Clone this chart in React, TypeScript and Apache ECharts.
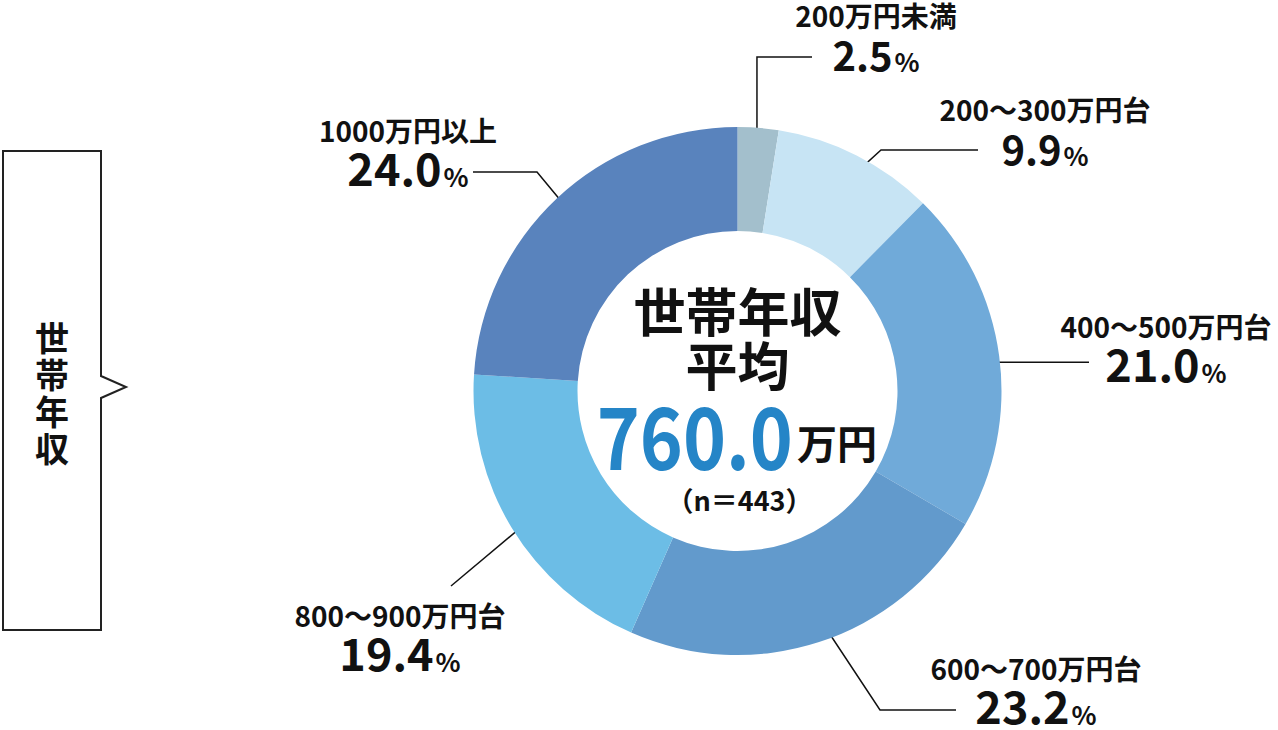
import { useEffect, useRef } from "react";
import * as echarts from "echarts";

const categories = [
  "200万円未満",
  "200～300万円台",
  "400～500万円台",
  "600～700万円台",
  "800～900万円台",
  "1000万円以上",
];
const shares = [2.5, 9.9, 21.0, 23.2, 19.4, 24.0];
const sliceColors = ["#a3bfcc", "#c7e4f4", "#70aad9", "#629acc", "#6cbde6", "#5983bd"];

const centerTitle = ["世帯年収", "平均"];
const averageIncome = "760.0";
const averageUnit = "万円";
const sampleSize = 443;
const sideCaption = "世帯年収";

const FONT = "'Noto Sans CJK JP', 'Noto Sans', sans-serif";
const CX = 737.5;
const CY = 391;

// label block centre, value font size, leader start radius and leader bends
// (null = keep the previous point's coordinate)
const labelSpots: { x: number; y: number; big: boolean; r: number; bends: (number | null)[][] }[] = [
  { x: 876, y: 35, big: false, r: 248, bends: [[null, 57], [812, 57]] },
  { x: 1045, y: 129, big: false, r: 229, bends: [[881, 150], [978, 150]] },
  { x: 1166, y: 346, big: true, r: 218, bends: [[1089, null]] },
  { x: 1036, y: 688, big: true, r: 214, bends: [[880, 710], [956, 710]] },
  { x: 400, y: 635, big: true, r: 230, bends: [[451, 586]] },
  { x: 408, y: 150, big: true, r: 236, bends: [[537, 172], [473, 172]] },
];

const calloutBox = [
  [3, 151],
  [101, 151],
  [101, 376],
  [126, 387],
  [101, 398],
  [101, 630],
  [3, 630],
];

const centered = {
  fontFamily: FONT,
  fontWeight: "bold",
  fill: "#111",
  align: "center",
  verticalAlign: "middle",
  textAlign: "center",
  textVerticalAlign: "middle",
};

export default function App() {
  const ref = useRef<HTMLDivElement>(null);

  useEffect(() => {
    if (!ref.current) return;
    const chart = echarts.init(ref.current, null, { renderer: "svg" });

    const total = shares.reduce((a, b) => a + b, 0);
    let acc = 0;
    const midAngles = shares.map((v) => {
      const mid = ((acc + v / 2) / total) * Math.PI * 2;
      acc += v;
      return mid;
    });

    chart.setOption({
      animation: false,
      textStyle: { fontFamily: FONT },
      series: [
        {
          type: "pie",
          center: [CX, CY],
          radius: [160, 264],
          startAngle: 90,
          clockwise: true,
          avoidLabelOverlap: false,
          silent: true,
          data: categories.map((name, i) => ({
            name,
            value: shares[i],
            itemStyle: { color: sliceColors[i] },
          })),
          label: {
            show: true,
            position: "outside",
            color: "#111",
            formatter: (p: any) =>
              `{n|${p.name}}\n{${labelSpots[p.dataIndex].big ? "v" : "s"}|${Number(p.value).toFixed(1)}}{p|%}`,
            rich: {
              n: { fontFamily: FONT, fontSize: 28, fontWeight: "bold", lineHeight: 38, color: "#111", align: "center" },
              v: { fontFamily: FONT, fontSize: 45, fontWeight: "bold", lineHeight: 40, color: "#111", verticalAlign: "bottom" },
              s: { fontFamily: FONT, fontSize: 40, fontWeight: "bold", lineHeight: 40, color: "#111", verticalAlign: "bottom" },
              p: { fontFamily: FONT, fontSize: 26, fontWeight: "bold", lineHeight: 26, color: "#111", verticalAlign: "bottom", padding: [0, 0, 0, 2] },
            },
          },
          labelLine: { show: true, lineStyle: { color: "#111", width: 1.5 } },
          labelLayout: (params: any) => {
            const spot = labelSpots[params.dataIndex];
            const a = midAngles[params.dataIndex];
            const pts: number[][] = [[CX + spot.r * Math.sin(a), CY - spot.r * Math.cos(a)]];
            spot.bends.forEach((b) => {
              const prev = pts[pts.length - 1];
              pts.push([b[0] ?? prev[0], b[1] ?? prev[1]]);
            });
            return {
              x: spot.x,
              y: spot.y,
              align: "center",
              verticalAlign: "middle",
              labelLinePoints: pts,
            };
          },
        },
      ],
      graphic: [
        {
          type: "polygon",
          shape: { points: calloutBox },
          style: { fill: "#fff", stroke: "#222", lineWidth: 2 },
        },
        {
          type: "text",
          x: 52,
          y: 392,
          style: { ...centered, text: sideCaption.split("").join("\n"), fontSize: 34, lineHeight: 37 },
        },
        {
          type: "text",
          x: CX,
          y: 309,
          style: { ...centered, text: centerTitle[0], fontSize: 52 },
        },
        {
          type: "text",
          x: CX,
          y: 363,
          style: { ...centered, text: centerTitle[1], fontSize: 52 },
        },
        {
          type: "text",
          x: 793,
          y: 432,
          scaleX: 0.85,
          style: {
            ...centered,
            text: averageIncome,
            fontSize: 86,
            fill: "#2585c7",
            align: "right",
            textAlign: "right",
          },
        },
        {
          type: "text",
          x: 797,
          y: 442,
          style: {
            ...centered,
            text: averageUnit,
            fontSize: 40,
            align: "left",
            textAlign: "left",
          },
        },
        {
          type: "text",
          x: CX + 2,
          y: 499,
          style: { ...centered, text: `（n＝${sampleSize}）`, fontSize: 27 },
        },
      ],
    });

    return () => chart.dispose();
  }, []);

  return (
    <div
      ref={ref}
      style={{ position: "fixed", left: 0, top: 0, width: 1278, height: 730, background: "#fff" }}
    />
  );
}
